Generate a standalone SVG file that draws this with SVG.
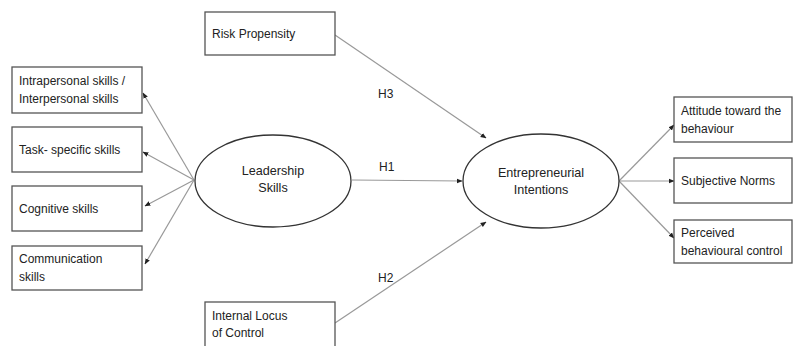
<svg xmlns="http://www.w3.org/2000/svg" width="795" height="346" viewBox="0 0 795 346">
<defs>
<marker id="ah" viewBox="0 0 10 10" refX="9" refY="5" markerWidth="6" markerHeight="6" orient="auto" markerUnits="userSpaceOnUse">
<path d="M0,1 L10,5 L0,9 Z" fill="#222"/>
</marker>
<style>
.box{fill:#fff;stroke:#555;stroke-width:1.3}
.ell{fill:#fff;stroke:#333;stroke-width:1.3}
.t{font-family:"Liberation Sans",Arial,sans-serif;font-size:12px;fill:#222}
.c{text-anchor:middle;font-size:12.6px}
.ln{stroke:#999;stroke-width:1.2;fill:none;marker-end:url(#ah)}
</style>
</defs>
<rect width="795" height="346" fill="#fff"/>
<g id="connectors">
<line class="ln" x1="194" y1="180" x2="143" y2="93"/>
<line class="ln" x1="194" y1="180" x2="143" y2="152"/>
<line class="ln" x1="194" y1="180" x2="145" y2="206"/>
<line class="ln" x1="194" y1="180" x2="145" y2="264"/>
<line class="ln" x1="352" y1="180" x2="462" y2="181"/>
<line class="ln" x1="335" y1="35" x2="486" y2="138"/>
<line class="ln" x1="335" y1="323" x2="486" y2="222"/>
<line class="ln" x1="619" y1="181" x2="674" y2="125"/>
<line class="ln" x1="619" y1="181" x2="674" y2="181"/>
<line class="ln" x1="619" y1="181" x2="674" y2="238"/>
<text class="t" x="378" y="98">H3</text>
<text class="t" x="379" y="171">H1</text>
<text class="t" x="378" y="282">H2</text>
</g>
<g id="intra">
<rect class="box" x="12" y="67" width="130" height="46"/>
<text class="t" x="19" y="85">Intrapersonal skills /</text>
<text class="t" x="19" y="103">Interpersonal skills</text>
</g>
<g id="task">
<rect class="box" x="12" y="127" width="130" height="45"/>
<text class="t" x="19" y="154">Task- specific skills</text>
</g>
<g id="cognitive">
<rect class="box" x="12" y="186" width="130" height="45"/>
<text class="t" x="19" y="213">Cognitive skills</text>
</g>
<g id="communication">
<rect class="box" x="12" y="246" width="130" height="44"/>
<text class="t" x="19" y="263">Communication</text>
<text class="t" x="19" y="281">skills</text>
</g>
<g id="leadership">
<ellipse class="ell" cx="273" cy="181" rx="78" ry="46"/>
<text class="t c" x="273" y="175">Leadership</text>
<text class="t c" x="273" y="192">Skills</text>
</g>
<g id="risk">
<rect class="box" x="205" y="12" width="130" height="43"/>
<text class="t" x="212" y="38">Risk Propensity</text>
</g>
<g id="locus">
<rect class="box" x="205" y="302" width="130" height="50"/>
<text class="t" x="212" y="320">Internal Locus</text>
<text class="t" x="212" y="337">of Control</text>
</g>
<g id="intentions">
<ellipse class="ell" cx="541" cy="181" rx="78" ry="47"/>
<text class="t c" x="541" y="177">Entrepreneurial</text>
<text class="t c" x="541" y="194">Intentions</text>
</g>
<g id="attitude">
<rect class="box" x="674" y="97" width="118" height="45"/>
<text class="t" x="681" y="115">Attitude toward the</text>
<text class="t" x="681" y="133">behaviour</text>
</g>
<g id="norms">
<rect class="box" x="674" y="158" width="118" height="45"/>
<text class="t" x="681" y="185">Subjective Norms</text>
</g>
<g id="control">
<rect class="box" x="674" y="220" width="118" height="43"/>
<text class="t" x="681" y="237">Perceived</text>
<text class="t" x="681" y="255">behavioural control</text>
</g>
</svg>
